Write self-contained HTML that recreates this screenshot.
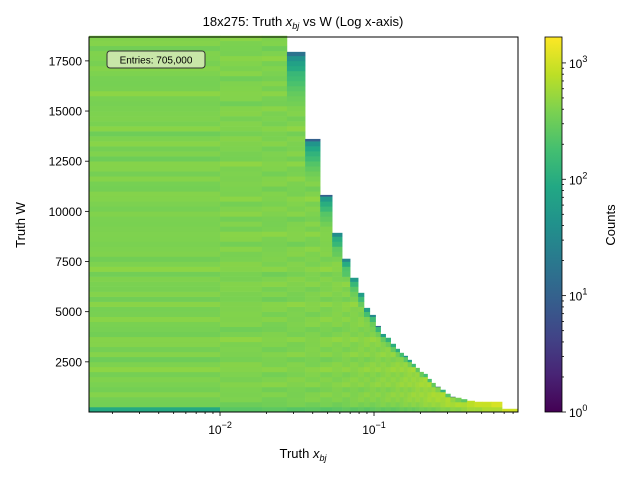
<!DOCTYPE html>
<html><head><meta charset="utf-8"><style>
body{margin:0;background:#fff;}
svg text{font-family:"Liberation Sans","DejaVu Sans",sans-serif;}
</style></head><body>
<svg id="chart" width="640" height="480" xmlns="http://www.w3.org/2000/svg">
<defs>
<linearGradient id="vir" x1="0" y1="1" x2="0" y2="0">
<stop offset="0" stop-color="#440154"/><stop offset="0.1" stop-color="#482475"/><stop offset="0.2" stop-color="#414487"/><stop offset="0.3" stop-color="#355f8d"/><stop offset="0.4" stop-color="#2a788e"/><stop offset="0.5" stop-color="#21918c"/><stop offset="0.6" stop-color="#22a884"/><stop offset="0.7" stop-color="#44bf70"/><stop offset="0.8" stop-color="#7ad151"/><stop offset="0.9" stop-color="#bddf26"/><stop offset="1" stop-color="#fde725"/>
</linearGradient>
</defs>
<g id="cells"></g>
<rect x="89" y="37" width="429" height="375" fill="none" stroke="#000" stroke-width="1"/>
<g id="axes"></g>
<text x="303" y="26" font-size="13" text-anchor="middle">18x275: Truth <tspan font-style="italic">x</tspan><tspan font-size="9" dy="3" font-style="italic">bj</tspan><tspan dy="-3"> vs W (Log x-axis)</tspan></text>
<text x="303" y="458" font-size="13" text-anchor="middle">Truth <tspan font-style="italic">x</tspan><tspan font-size="9" dy="3" font-style="italic">bj</tspan></text>
<text transform="translate(25,225) rotate(-90)" font-size="13" text-anchor="middle">Truth W</text>
<g>
<rect x="107" y="51" width="98" height="17" rx="3" fill="#c8e6a8" stroke="#333" stroke-width="1"/>
<text x="156" y="63.5" font-size="10" text-anchor="middle">Entries: 705,000</text>
</g>
<rect x="545" y="37" width="17" height="375" fill="url(#vir)" stroke="#000" stroke-width="0.8"/>
<g id="cbaxis"></g>
<text transform="translate(615,225) rotate(-90)" font-size="13" text-anchor="middle">Counts</text>
</svg>
<script>
const xEdges=[0.00141,0.01,0.0187,0.0272,0.0357,0.0447,0.0535,0.0621,0.0700,0.0789,0.0861,0.0939,0.1024,0.1104,0.1190,0.1283,0.1383,0.1468,0.1558,0.1654,0.1755,0.1862,0.1976,0.2097,0.2226,0.2362,0.2507,0.2700,0.2908,0.3133,0.3375,0.3683,0.4019,0.4501,0.5040,0.5783,0.6785,0.861];
const colTopW=[18750,18750,18750,17950,13610,10820,8930,7640,6690,5940,5190,4840,4290,3890,3700,3400,3150,2950,2800,2600,2400,2200,2000,1900,1650,1450,1260,1110,910,760,710,640,560,510,510,510,160];
const colLevel=[390,400,395,400,405,410,415,420,425,430,435,440,445,450,455,465,475,485,495,505,520,535,550,570,590,610,640,670,700,740,780,840,900,980,1080,1200,1600];
const rowFactor=[0.6,0.85,0.95,1.0,0.9,1.05,1.0,0.95,1.1,1.0,0.9,1.05,0.95,1.0,1.1,0.95,0.9,1.0,1.05,0.95,1.0,1.1,0.9,1.0,0.95,1.05,1.0,0.9,1.1,1.0,0.95,1.0,1.05,0.9,1.0,1.1,0.95,1.0,0.9,1.05,1.0,0.95,1.1,1.0,0.9,1.0,1.05,0.95,1.0,1.1,0.9,1.0,0.95,1.05,1.0,0.9,1.1,1.0,0.95,1.0,1.05,0.9,1.0,1.1,0.95,1.0,0.9,1.05,1.0,0.95,1.1,1.0,0.9,1.0,1.05];
const yTicks=[2500,5000,7500,10000,12500,15000,17500];
const cTicks=[1,10,100,1000];
const W_BIN=250,W_MAX=18690,C_MAX=1670;
const X0=89,X1=518,Y0=412,Y1=37;
const LX0=Math.log10(0.00141),LX1=Math.log10(0.861);
const sx=v=>X0+(Math.log10(v)-LX0)/(LX1-LX0)*(X1-X0);
const sy=v=>Y0-v/W_MAX*(Y0-Y1);
const cy=v=>412-Math.log10(v)/Math.log10(C_MAX)*375;
const vir=["#440154","#482475","#414487","#355f8d","#2a788e","#21918c","#22a884","#44bf70","#7ad151","#bddf26","#fde725"];
function hex(h){return [1,3,5].map(i=>parseInt(h.substr(i,2),16));}
function cmap(t){if(!isFinite(t))t=0;t=Math.max(0,Math.min(1,t));const f=t*10,i=Math.min(9,Math.floor(f)),u=f-i;const a=hex(vir[i]),b=hex(vir[i+1]);return `rgb(${a.map((c,k)=>Math.round(c+(b[k]-c)*u)).join(',')})`;}
const NS="http://www.w3.org/2000/svg";
const cells=document.getElementById('cells');
for(let c=0;c<colLevel.length;c++){
  const xa=sx(xEdges[c]),xb=sx(xEdges[c+1]);
  const top=colTopW[c];
  for(let r=0;r<rowFactor.length;r++){
    const w0=r*W_BIN; if(w0>=top) break;
    const w1=Math.min(top,w0+W_BIN);
    let v=colLevel[c]*rowFactor[r]*(1+((c*7+r*3)%5-2)*0.04);
    if(c===0&&r===0)v=90;
    if(top<18750&&top>600){const d=(top-w0)/W_BIN;const span=Math.max(1.5,top/1500);if(d<span)v*=Math.max(0.01,Math.pow(Math.max(0,d/span),1.2));}
    const el=document.createElementNS(NS,'rect');
    el.setAttribute('x',xa);el.setAttribute('width',xb-xa+0.3);
    el.setAttribute('y',sy(w1));el.setAttribute('height',sy(w0)-sy(w1)+0.3);
    el.setAttribute('fill',cmap(Math.log10(Math.max(v,1))/Math.log10(C_MAX)));
    
    
    cells.appendChild(el);
  }
}
const axes=document.getElementById('axes');
function line(p,x1,y1,x2,y2){const l=document.createElementNS(NS,'line');l.setAttribute('x1',x1);l.setAttribute('y1',y1);l.setAttribute('x2',x2);l.setAttribute('y2',y2);l.setAttribute('stroke','#000');l.setAttribute('stroke-width','0.8');p.appendChild(l);return l;}
function txt(p,x,y,s,anchor,size){const t=document.createElementNS(NS,'text');t.setAttribute('x',x);t.setAttribute('y',y);t.setAttribute('font-size',size||12);t.setAttribute('text-anchor',anchor);t.innerHTML=s;p.appendChild(t);return t;}
yTicks.forEach(v=>{const y=sy(v);line(axes,X0-4,y,X0,y);const t=txt(axes,X0-7,y+4.5,v,'end');

});
[0.001,0.01,0.1].forEach(d=>{for(let k=1;k<10;k++){const v=d*k;if(v<0.00141||v>0.861)continue;const x=sx(v);if(k===1){line(axes,x,Y0,x,Y0+4);const t=txt(axes,x,Y0+22,'10<tspan font-size="9" dy="-6">−'+(-Math.log10(d)).toFixed(0)+'</tspan>','middle');

}else line(axes,x,Y0,x,Y0+2);}});
const cb=document.getElementById('cbaxis');
cTicks.forEach((v,i)=>{const y=cy(v);line(cb,562,y,566,y);const t=txt(cb,569,y+5,'10<tspan font-size="9" dy="-6">'+i+'</tspan>','start');


for(let k=2;k<10&&i<3;k++){const yy=cy(v*k);line(cb,562,yy,564,yy);}});
</script>
</body></html>
